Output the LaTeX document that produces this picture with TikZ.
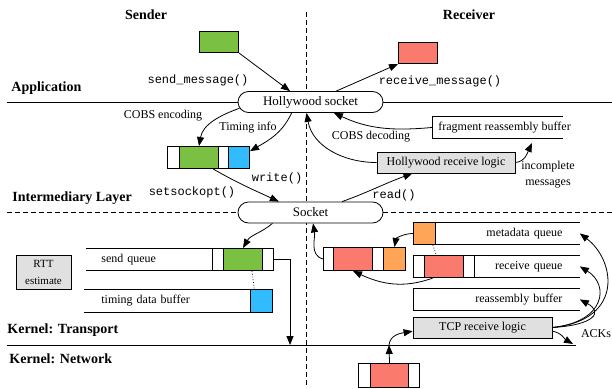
\documentclass[tikz,border=0pt]{standalone}
\usepackage{fontspec}
\setmainfont{Liberation Serif}
\setmonofont{Liberation Mono}
\usetikzlibrary{arrows.meta,shapes.misc}
\definecolor{msggreen}{HTML}{7AC143}
\definecolor{tmblue}{HTML}{33BBFF}
\definecolor{pktred}{HTML}{FA7B6E}
\definecolor{metaorange}{HTML}{FFA558}
\definecolor{logicgray}{HTML}{E0E0E0}

\begin{document}
\begin{tikzpicture}[x=1pt, y=1pt, line width=0.8pt,
    txt/.style={font=\fontsize{12}{14}\selectfont, inner sep=0pt},
    code/.style={font=\ttfamily\fontsize{12}{14}\selectfont, inner sep=0pt},
    head/.style={font=\bfseries\fontsize{14}{16}\selectfont, inner sep=0pt},
    layer/.style={head, anchor=west},
    cell/.style={draw, line width=1pt, inner sep=0pt, anchor=north west},
    qbody/.style={font=\fontsize{12}{14}\selectfont, inner ysep=0pt, anchor=north west, minimum height=22},
    sock/.style={draw, rounded rectangle, fill=white, minimum width=145, minimum height=21, inner sep=0pt, font=\fontsize{13}{15}\selectfont},
    logic/.style={draw, fill=logicgray, inner sep=0pt, font=\fontsize{12}{14}\selectfont},
    arr/.style={-{Triangle[length=9pt,width=7pt]}},
    divide/.style={dash pattern=on 5pt off 3pt}]
  \useasboundingbox (0,0) rectangle (612,-388);

  % sender / receiver divider
  \draw[divide] (306,-12) -- (306,-388);

  % titles and layers
  \node[head] (sender) at (146,-15) {Sender};
  \node[head] (receiver) at (469,-15) {Receiver};
  \node[layer] (app) at (11,-88) {Application};
  \node[layer] (mid) at (12,-198) {Intermediary Layer};
  \node[layer] (ktr) at (7,-330) {Kernel: Transport};
  \node[layer] (knet) at (9,-359) {Kernel: Network};

  \node[sock] (hws) at (310.5,-102) {Hollywood socket};
  \node[sock] (sock) at (310.5,-212.5) {Socket};
  \draw (7,-102) -- (hws.west) (hws.east) -- (612,-102);
  \draw[divide] (7,-212.5) -- (sock.west) (sock.east) -- (612,-212.5);
  \draw (7,-345) -- (576,-345);

  % application messages
  \node[cell, fill=msggreen, minimum width=39, minimum height=21] (msgS) at (199,-31) {};
  \node[cell, fill=pktred, minimum width=39, minimum height=21] (msgR) at (398,-42) {};
  \node[code] (sendmsg) at (198,-80) {send\_message()};
  \node[code] (recvmsg) at (440,-81) {receive\_message()};
  \draw[arr] (msgS.south east) -- (hws.152);
  \draw[arr] (hws.23) -- (msgR.south west);

  % sender: encoded message
  \foreach \x/\w/\c [count=\i] in {167/12/white,179/39/msggreen,218/10/white,228/21/tmblue}
    \node[cell, fill=\c, minimum width=\w, minimum height=22] (enc\i) at (\x,-146) {};
  \node[txt] (cobsenc) at (163,-116) {COBS encoding};
  \node[txt] (timing) at (248,-128) {Timing info};
  \node[code] (write) at (277,-178) {write()};
  \node[code] (setopt) at (192,-192) {setsockopt()};
  \draw[arr] (hws.185) to[out=200, in=80] (enc2.north);
  \draw[arr] (hws.210) to[out=245, in=30] (enc4.30);
  \draw[arr] (enc2.-39) to[out=-30, in=155] (sock.161);

  % receiver: hollywood logic
  \node[txt, anchor=west, inner xsep=6, minimum height=21] (frag) at (432,-127.5) {fragment reassembly buffer};
  \draw (frag.north west) ++(131,0) -- (frag.north west) -- (frag.south west) -- ++(131,0);
  \node[logic, minimum width=138, minimum height=21] (hrl) at (446,-162.5) {Hollywood receive logic};
  \node[txt] (cobsdec) at (371,-137) {COBS decoding};
  \node[txt, align=center, font=\fontsize{12}{16}\selectfont] (incmsg) at (548,-175) {incomplete\\messages};
  \node[code] (read) at (394,-195) {read()};
  \coordinate (fragin) at (532,-143);
  \draw[arr] (frag.west) to[out=185, in=-25] (hws.-25);
  \draw[arr] (hrl.west) to[out=180, in=-80] (hws.-110);
  \draw[arr] (hrl.east) to[out=5, in=-115] (fragin);
  \draw[arr] (sock.19) to[out=20, in=-160] (hrl.-162);

  % sender: kernel buffers
  \node[logic, minimum width=55, minimum height=34, align=center, font=\fontsize{11}{17}\selectfont] (rtt) at (43.5,-272) {RTT\\estimate};
  \node[qbody, inner xsep=15, text width=96, align=left] (sendq) at (86,-248) {send queue};
  \draw (sendq.north east) -- (sendq.north west) (sendq.south west) -- (sendq.south east);
  \foreach \x/\w/\c [count=\i] in {212/11/white,223/39/msggreen,262/11/white}
    \node[cell, fill=\c, minimum width=\w, minimum height=22] (sq\i) at (\x,-248) {};
  \node[qbody, minimum height=23, inner xsep=17, text width=132, align=left] (tdb) at (84,-289) {timing data buffer};
  \draw (tdb.north east) -- (tdb.north west) (tdb.south west) -- (tdb.south east);
  \node[cell, fill=tmblue, minimum width=22, minimum height=23] (tdbb) at (250,-289) {};
  \coordinate (sendout) at (290,-345);
  \draw[arr] (sock.-164) to[out=-140, in=60] (sq2.north);
  \draw[dotted] (sq2.-52) -- (tdbb.121);
  \draw[arr] (sq3.east) -| (sendout);

  % receiver: kernel buffers
  \foreach \x/\w/\c [count=\i] in {323/10/white,333/39/pktred,372/11/white,383/22/metaorange}
    \node[cell, fill=\c, minimum width=\w, minimum height=23] (rx\i) at (\x,-247) {};
  \node[cell, fill=metaorange, minimum width=22, minimum height=22] (mq) at (413,-222) {};
  \node[qbody, inner xsep=17, text width=110, align=right] (metaq) at (435,-222) {metadata queue};
  \draw (metaq.north west) -- (metaq.north east) (metaq.south west) -- (metaq.south east);
  \foreach \x/\w/\c [count=\i] in {413/11/white,424/39/pktred,463/11/white}
    \node[cell, fill=\c, minimum width=\w, minimum height=22] (rq\i) at (\x,-255) {};
  \node[qbody, inner xsep=17, text width=71, align=right] (recvq) at (474,-255) {receive queue};
  \draw (recvq.north west) -- (recvq.north east) (recvq.south west) -- (recvq.south east);
  \node[qbody, inner xsep=17, text width=132, align=right] (reasb) at (413,-288) {reassembly buffer};
  \draw (reasb.north east) -- (reasb.north west) -- (reasb.south west) -- (reasb.south east);
  \node[logic, minimum width=139, minimum height=21] (tcp) at (482.5,-327.5) {TCP receive logic};
  \node[txt] (acks) at (596,-334) {ACKs};
  \coordinate (ackout) at (573,-344);
  \foreach \x/\w/\c [count=\i] in {358/12/white,370/38/pktred,408/11/white}
    \node[cell, fill=\c, minimum width=\w, minimum height=24] (pk\i) at (\x,-363) {};
  \coordinate (netin) at (389,-345);

  \draw[arr] (mq.west) to[out=180, in=80] (rx4.north);
  \draw[dotted] (mq.-54) -- (rq2.124);
  \draw[arr] (rq2.-134) to[out=200, in=-25] (rx2.south);
  \draw[arr] (rx1.west) to[out=165, in=-80] (sock.-77);
  \draw[arr] (tcp.east) .. controls (595,-325) and (603,-312) .. (reasb.east);
  \draw[arr] (tcp.east) .. controls (605,-322) and (610,-285) .. (recvq.east);
  \draw[arr] (tcp.east) .. controls (625,-320) and (615,-260) .. (metaq.east);
  \draw[arr] (tcp.-3) to[out=-10, in=150] (ackout);
  \draw[arr] (pk2.north) -- (netin);
  \draw[arr] (netin) to[out=85, in=190] (tcp.183);
\end{tikzpicture}
\end{document}
